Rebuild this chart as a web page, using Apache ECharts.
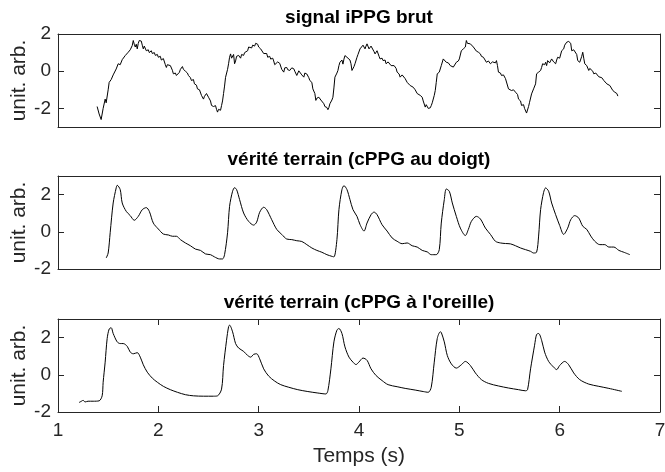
<!DOCTYPE html>
<html>
<head>
<meta charset="utf-8">
<script src="https://cdn.jsdelivr.net/npm/echarts@6/dist/echarts.min.js"></script>
<style>
html, body { margin: 0; padding: 0; background: #fff; }
#main { width: 665px; height: 472px; }
</style>
</head>
<body>
<div id="main"></div>
<script>
// titres des trois sous-figures
const titres = ['signal iPPG brut', 'vérité terrain (cPPG au doigt)', "vérité terrain (cPPG à l'oreille)"];
const yTicks = [-2, 0, 2];
const yRanges = [[-3, 2], [-2, 3], [-2, 3]];
const xRange = [1, 7];

// [temps (s), amplitude]
const ippg = [
  [1.39,-1.9],[1.41,-2.3],[1.43,-2.6],[1.45,-2.0],[1.47,-1.5],[1.48,-1.7],[1.50,-1.0],[1.51,-0.6],[1.53,-0.45],[1.55,-0.2],
  [1.56,-0.3],[1.58,0.12],[1.59,0.05],[1.60,0.4],[1.62,0.35],[1.64,0.62],[1.65,0.55],[1.67,0.84],[1.68,0.78],[1.70,1.02],
  [1.71,0.95],[1.72,1.15],[1.74,1.38],[1.75,1.65],[1.76,1.45],[1.77,1.3],[1.78,1.45],[1.79,1.2],[1.80,1.5],[1.81,1.65],
  [1.82,1.58],[1.83,1.62],[1.84,1.4],[1.85,1.2],[1.86,1.35],[1.87,1.25],[1.88,1.1],[1.90,1.15],[1.91,1.0],[1.93,1.1],
  [1.94,0.95],[1.96,1.0],[1.97,0.85],[1.99,0.9],[2.00,0.75],[2.02,0.8],[2.03,0.6],[2.05,0.68],[2.07,0.35],[2.08,0.2],
  [2.09,0.35],[2.10,0.42],[2.12,0.3],[2.13,0.25],[2.14,0.05],[2.15,-0.14],[2.17,-0.1],[2.18,-0.23],[2.19,-0.15],[2.21,-0.06],
  [2.22,0.1],[2.24,0.25],[2.25,0.1],[2.26,0.15],[2.27,0.0],[2.29,-0.1],[2.30,-0.23],[2.32,-0.35],[2.33,-0.5],[2.35,-0.45],
  [2.36,-0.68],[2.38,-0.75],[2.39,-0.95],[2.41,-1.0],[2.43,-1.3],[2.44,-1.4],[2.45,-1.5],[2.46,-1.35],[2.48,-1.2],[2.49,-1.13],
  [2.50,-1.4],[2.52,-1.6],[2.53,-1.84],[2.55,-1.9],[2.56,-2.0],[2.57,-1.85],[2.58,-2.05],[2.59,-2.2],[2.60,-2.05],[2.61,-1.97],
  [2.62,-2.1],[2.63,-1.85],[2.64,-1.6],[2.65,-1.2],[2.66,-0.8],[2.67,-0.33],[2.69,0.1],[2.70,0.4],[2.71,0.75],[2.72,0.93],
  [2.73,0.7],[2.74,0.66],[2.75,0.9],[2.76,0.4],[2.77,0.55],[2.78,0.8],[2.79,0.7],[2.80,0.85],[2.82,0.7],[2.83,0.9],
  [2.85,0.85],[2.86,1.0],[2.87,0.95],[2.89,1.1],[2.90,1.3],[2.91,1.2],[2.93,1.25],[2.94,1.4],[2.96,1.35],[2.97,1.5],
  [2.99,1.45],[3.00,1.3],[3.02,1.2],[3.03,1.1],[3.05,0.95],[3.06,0.9],[3.08,0.95],[3.09,0.75],[3.11,0.8],[3.12,0.65],
  [3.14,0.7],[3.15,0.55],[3.16,0.35],[3.17,0.3],[3.19,0.5],[3.20,0.45],
  [3.21,0.42],[3.23,0.1],[3.25,-0.05],[3.26,0.18],[3.28,0.2],[3.29,0.08],[3.31,0.04],[3.33,0.18],[3.35,0.13],[3.36,0.0],
  [3.38,-0.23],[3.40,0.02],[3.41,-0.05],[3.43,-0.2],[3.45,-0.32],[3.46,-0.1],[3.48,-0.15],[3.50,-0.35],[3.51,-0.5],[3.53,-0.6],
  [3.54,-0.95],[3.56,-1.2],[3.57,-1.57],[3.58,-1.45],[3.60,-1.4],[3.62,-1.55],[3.63,-1.57],[3.65,-1.75],[3.66,-1.9],[3.68,-1.95],
  [3.69,-2.07],[3.70,-1.95],[3.71,-1.75],[3.73,-1.55],[3.74,-1.4],[3.75,-0.9],[3.76,-0.32],[3.78,-0.1],[3.79,0.04],[3.80,0.3],
  [3.81,0.48],[3.83,0.6],[3.84,0.38],[3.85,0.65],[3.86,0.84],[3.88,0.75],[3.89,0.84],[3.91,0.6],[3.92,0.4],[3.93,0.04],
  [3.95,0.25],[3.96,0.4],[3.98,0.75],[3.99,0.9],[4.01,1.2],[4.02,1.1],[4.04,1.4],[4.05,1.3],[4.06,1.2],[4.07,1.35],
  [4.08,1.47],[4.09,1.4],[4.10,1.2],[4.12,1.35],[4.13,1.3],[4.15,1.05],[4.16,0.93],[4.17,1.0],[4.18,1.1],[4.20,0.8],
  [4.21,0.66],[4.23,0.7],[4.24,0.57],[4.26,0.6],[4.27,0.4],[4.29,0.5],[4.30,0.45],[4.32,0.3],[4.33,0.22],[4.35,0.3],
  [4.36,0.4],[4.37,0.15],[4.38,-0.05],[4.40,-0.15],[4.41,-0.32],[4.43,-0.2],[4.44,-0.14],[4.46,-0.4],[4.48,-0.6],[4.49,-0.55],
  [4.51,-0.77],[4.52,-0.7],[4.54,-0.86],[4.56,-1.0],[4.58,-1.2],[4.59,-1.15],[4.61,-1.3],[4.62,-1.25],[4.63,-1.4],[4.64,-1.6],
  [4.66,-1.93],[4.67,-1.8],[4.68,-1.75],[4.69,-2.0],[4.71,-1.97],[4.72,-1.85],[4.73,-1.7],[4.75,-1.3],[4.76,-1.04],[4.77,-0.6],
  [4.78,-0.14],[4.80,-0.05],[4.81,0.04],[4.82,0.3],[4.84,0.66],[4.85,0.6],[4.87,0.48],[4.89,0.45],[4.91,0.3],[4.92,0.35],
  [4.94,0.22],[4.95,0.3],[4.97,0.48],[4.99,0.55],[5.00,0.66],[5.02,1.1],[5.04,1.2],[5.06,1.3],[5.07,1.65],[5.08,1.5],
  [5.09,1.6],[5.11,1.47],[5.12,1.5],[5.14,1.3],[5.15,1.2],[5.17,1.08],[5.19,1.02],[5.21,0.93],[5.22,0.8],[5.24,0.75],
  [5.25,0.85],[5.27,0.48],[5.29,0.55],[5.31,0.4],[5.33,0.5],[5.34,0.48],[5.36,0.45],[5.37,0.57],[5.38,0.3],[5.39,-0.05],
  [5.41,-0.1],[5.42,-0.23],[5.44,-0.2],[5.46,-0.4],[5.47,-0.5],[5.49,-0.95],[5.50,-0.85],[5.52,-1.04],[5.54,-1.0],[5.56,-1.13],
  [5.58,-1.25],[5.59,-1.5],[5.61,-1.6],[5.62,-1.84],[5.64,-1.8],[5.65,-2.0],[5.66,-2.05],[5.67,-2.25],[5.69,-1.9],[5.70,-1.67],
  [5.72,-1.22],[5.74,-0.95],[5.76,-0.68],[5.77,-0.14],[5.79,-0.05],[5.81,0.04],[5.82,0.2],[5.83,0.4],[5.85,0.35],[5.86,0.48],
  [5.87,0.3],[5.88,0.57],[5.90,0.45],[5.91,0.4],[5.92,0.66],[5.94,0.5],[5.96,0.4],[5.97,0.6],[5.98,0.75],[6.00,0.7],
  [6.01,0.75],[6.02,1.1],[6.04,1.2],[6.05,1.4],[6.06,1.3],[6.07,1.56],[6.09,1.6],[6.10,1.65],[6.11,1.5],[6.12,1.1],
  [6.14,1.15],[6.15,1.1],[6.17,0.9],[6.18,0.57],[6.19,0.65],[6.20,0.48],[6.22,0.8],[6.23,1.02],[6.24,0.7],[6.25,0.4],
  [6.27,0.3],[6.29,0.04],[6.30,0.15],[6.31,0.22],[6.33,0.0],[6.34,-0.14],[6.36,-0.1],[6.37,-0.05],[6.39,-0.3],[6.40,-0.4],
  [6.42,-0.35],[6.44,-0.5],[6.45,-0.45],[6.47,-0.68],[6.48,-0.6],[6.50,-0.77],[6.51,-0.85],[6.53,-1.04],[6.54,-0.95],[6.55,-1.13],
  [6.57,-1.2],[6.58,-1.34]
];

const doigt = [
  [1.48,-1.41],[1.50,-1.14],[1.52,-0.05],[1.55,1.55],[1.58,2.36],[1.59,2.5],[1.62,2.27],[1.64,1.55],[1.68,1.1],[1.72,0.87],
  [1.76,0.62],[1.80,0.83],[1.84,1.19],[1.88,1.3],[1.91,1.1],[1.95,0.47],[2.00,0.15],[2.05,-0.12],[2.10,-0.17],[2.14,-0.24],
  [2.18,-0.24],[2.22,-0.42],[2.27,-0.6],[2.32,-0.75],[2.37,-0.93],[2.42,-1.0],[2.47,-1.19],[2.52,-1.23],[2.56,-1.35],[2.61,-1.46],
  [2.64,-1.46],[2.66,-1.23],[2.69,-0.05],[2.71,1.37],[2.74,2.18],[2.76,2.37],[2.78,2.27],[2.81,1.73],[2.85,1.01],[2.90,0.56],
  [2.95,0.36],[2.98,0.52],[3.01,1.05],[3.05,1.32],[3.08,1.19],[3.13,0.65],[3.18,0.13],[3.23,-0.14],[3.28,-0.39],[3.33,-0.42],
  [3.38,-0.48],[3.43,-0.52],[3.48,-0.69],[3.53,-0.87],[3.58,-1.0],[3.63,-1.1],[3.68,-1.23],[3.73,-1.32],[3.75,-1.35],[3.78,-0.42],
  [3.80,1.19],[3.83,2.27],[3.85,2.48],[3.88,2.27],[3.91,1.73],[3.94,1.19],[3.98,0.83],[4.01,0.39],[4.05,0.04],[4.08,0.47],
  [4.12,0.92],[4.15,1.06],[4.18,0.92],[4.23,0.38],[4.28,0.04],[4.33,-0.33],[4.38,-0.51],[4.43,-0.64],[4.48,-0.6],[4.53,-0.75],
  [4.58,-0.82],[4.63,-1.0],[4.68,-1.08],[4.72,-1.23],[4.77,-1.23],[4.80,-0.96],[4.82,0.47],[4.85,1.73],[4.87,2.3],[4.90,2.18],
  [4.93,1.55],[4.97,0.83],[5.01,0.2],[5.06,-0.2],[5.09,0.13],[5.12,0.56],[5.17,0.83],[5.21,0.69],[5.26,0.2],[5.31,-0.14],
  [5.36,-0.51],[5.41,-0.6],[5.46,-0.63],[5.51,-0.65],[5.56,-0.75],[5.61,-0.87],[5.66,-0.96],[5.71,-1.05],[5.74,-1.14],[5.77,-1.1],
  [5.79,-0.23],[5.81,1.19],[5.84,2.12],[5.86,2.36],[5.89,2.18],[5.92,1.55],[5.96,0.92],[6.00,0.34],[6.04,-0.14],[6.08,0.2],
  [6.11,0.65],[6.15,0.87],[6.19,0.74],[6.23,0.3],[6.27,0.13],[6.31,-0.23],[6.35,-0.51],[6.40,-0.69],[6.45,-0.69],[6.49,-0.82],
  [6.54,-0.82],[6.59,-1.0],[6.64,-1.1],[6.70,-1.23]
];

const oreille = [
  [1.21,-1.49],[1.24,-1.4],[1.25,-1.37],[1.27,-1.46],[1.30,-1.42],[1.35,-1.42],[1.41,-1.4],[1.44,-1.13],[1.45,-0.4],[1.47,0.68],
  [1.49,1.95],[1.51,2.46],[1.53,2.53],[1.55,2.22],[1.59,1.77],[1.62,1.68],[1.65,1.68],[1.69,1.53],[1.72,1.22],[1.75,1.13],
  [1.79,1.19],[1.82,0.95],[1.85,0.54],[1.89,0.14],[1.94,-0.18],[1.99,-0.4],[2.05,-0.62],[2.12,-0.8],[2.19,-0.94],[2.27,-1.07],
  [2.35,-1.13],[2.45,-1.15],[2.55,-1.15],[2.59,-1.13],[2.63,-0.77],[2.65,0.5],[2.68,1.86],[2.70,2.58],[2.71,2.67],[2.74,2.31],
  [2.77,1.68],[2.80,1.44],[2.85,1.26],[2.89,1.04],[2.92,0.95],[2.95,1.1],[2.98,1.13],[3.01,0.86],[3.05,0.32],[3.10,-0.07],
  [3.16,-0.34],[3.22,-0.53],[3.30,-0.67],[3.39,-0.8],[3.49,-0.9],[3.59,-0.98],[3.67,-1.03],[3.69,-0.85],[3.72,0.32],[3.75,1.77],
  [3.78,2.4],[3.80,2.49],[3.83,2.22],[3.86,1.5],[3.90,0.95],[3.94,0.68],[3.97,0.55],[4.00,0.69],[4.04,0.9],[4.08,0.78],
  [4.12,0.32],[4.17,-0.04],[4.23,-0.31],[4.29,-0.53],[4.38,-0.64],[4.46,-0.73],[4.56,-0.82],[4.64,-0.9],[4.69,-0.94],[4.72,-0.67],
  [4.75,0.68],[4.78,1.95],[4.81,2.31],[4.82,2.28],[4.85,1.77],[4.88,1.04],[4.92,0.59],[4.97,0.36],[5.02,0.54],[5.06,0.72],
  [5.11,0.5],[5.16,0.1],[5.22,-0.26],[5.29,-0.46],[5.39,-0.6],[5.49,-0.71],[5.59,-0.8],[5.66,-0.86],[5.68,-0.8],[5.71,0.32],
  [5.75,1.59],[5.77,2.17],[5.79,2.22],[5.82,1.86],[5.85,1.22],[5.89,0.72],[5.94,0.41],[5.97,0.28],[6.00,0.5],[6.05,0.72],
  [6.09,0.54],[6.14,0.1],[6.20,-0.26],[6.29,-0.5],[6.39,-0.62],[6.49,-0.73],[6.62,-0.89]
];

const signaux = [ippg, doigt, oreille];
const font = '"Liberation Sans", Arial, Helvetica, sans-serif';
const axisColor = '#262626';

const myChart = echarts.init(document.getElementById('main'), null, { renderer: 'canvas' });

const grilles = [{ top: 34, height: 93 }, { top: 176, height: 93 }, { top: 319, height: 93 }];

let title = [], grid = [], xAxis = [], yAxis = [], series = [];
grilles.forEach(function (g, i) {
  const bas = i === 2;
  title.push({
    text: titres[i],
    left: 359,
    top: g.top - 26,
    textAlign: 'center',
    padding: 0,
    textStyle: { fontFamily: font, fontSize: 19, fontWeight: 'bold', color: '#000' }
  });
  grid.push({ left: 58, right: 5, top: g.top, height: g.height, containLabel: false, outerBoundsMode: 'none' });
  const ligne = { show: true, onZero: false, lineStyle: { color: axisColor, width: 1 } };
  // axe du bas
  xAxis.push({
    type: 'value', gridIndex: i, min: xRange[0], max: xRange[1], interval: 1,
    position: 'bottom',
    axisLine: ligne,
    axisTick: { show: bas, inside: true, length: 6, lineStyle: { color: axisColor } },
    axisLabel: { show: bas, fontFamily: font, fontSize: 19, color: axisColor, margin: 9 },
    splitLine: { show: false },
    name: bas ? 'Temps (s)' : '',
    nameLocation: 'middle',
    nameGap: 34,
    nameMoveOverlap: false,
    nameTextStyle: { fontFamily: font, fontSize: 21, color: axisColor }
  });
  // axe du haut (cadre)
  xAxis.push({
    type: 'value', gridIndex: i, min: xRange[0], max: xRange[1], interval: 1,
    position: 'top',
    axisLine: ligne,
    axisTick: { show: bas, inside: true, length: 6, lineStyle: { color: axisColor } },
    axisLabel: { show: false },
    splitLine: { show: false }
  });
  yAxis.push({
    type: 'value', gridIndex: i, min: yRanges[i][0], max: yRanges[i][1],
    position: 'left',
    axisLine: ligne,
    axisTick: { show: true, inside: true, length: 6, customValues: yTicks, lineStyle: { color: axisColor } },
    axisLabel: { show: true, customValues: yTicks, fontFamily: font, fontSize: 19, color: axisColor, margin: 7 },
    splitLine: { show: false },
    name: 'unit. arb.',
    nameLocation: 'middle',
    nameGap: 28,
    nameMoveOverlap: false,
    nameTextStyle: { fontFamily: font, fontSize: 21, color: axisColor }
  });
  yAxis.push({
    type: 'value', gridIndex: i, min: yRanges[i][0], max: yRanges[i][1],
    position: 'right',
    axisLine: ligne,
    axisTick: { show: true, inside: true, length: 6, customValues: yTicks, lineStyle: { color: axisColor } },
    axisLabel: { show: false },
    splitLine: { show: false }
  });
  series.push({
    type: 'line',
    xAxisIndex: 2 * i,
    yAxisIndex: 2 * i,
    data: signaux[i],
    showSymbol: false,
    smooth: i === 0 ? false : 0.3,
    lineStyle: { color: '#000', width: 1 },
    animation: false
  });
});

myChart.setOption({
  animation: false,
  title: title,
  grid: grid,
  xAxis: xAxis,
  yAxis: yAxis,
  series: series
});
</script>
</body>
</html>
